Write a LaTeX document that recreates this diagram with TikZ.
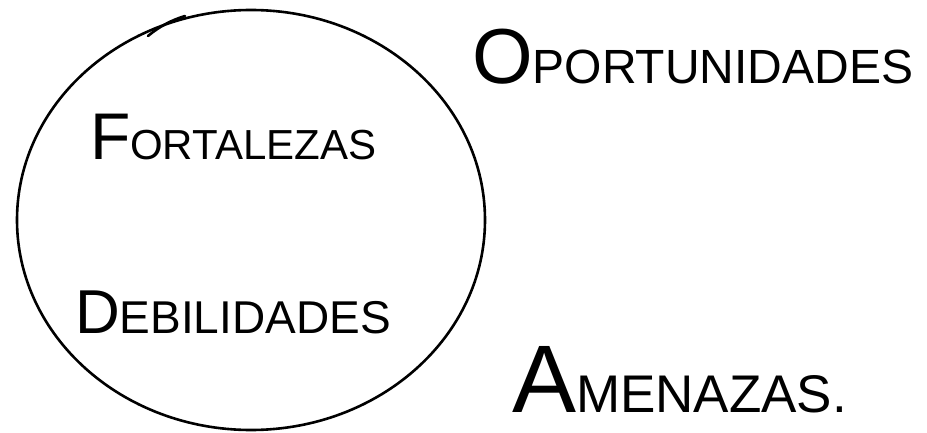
\documentclass[tikz,border=0pt]{standalone}
\usepackage{fontspec}
\setmainfont{Liberation Sans}
\begin{document}
\begin{tikzpicture}[x=1pt,y=-1pt,
  hand/.style={line width=2.6pt, line cap=round, line join=round, black},
  word/.style={anchor=base west, inner sep=0pt, outer sep=0pt, text=black}]
\useasboundingbox[fill=white] (0,0) rectangle (927,433);
% circle
\draw[hand] (251,220) ellipse [x radius=234, y radius=210];
\draw[hand] (148,36) .. controls (160,26) and (172,20) .. (185,16);
% labels
\node[word] (fort) at (90,160) {{\fontsize{66}{66}\selectfont F}{\fontsize{42}{42}\selectfont ORTALEZAS}};
\node[word] (debil) at (75,333) {{\fontsize{62}{62}\selectfont D}{\fontsize{46}{46}\selectfont EBILIDADES}};
\node[word] (oport) at (472,84) {{\fontsize{78}{78}\selectfont O}{\fontsize{48}{48}\selectfont PORTUNIDADES}};
\node[word] (amen) at (512,412) {{\fontsize{96}{96}\selectfont A}{\fontsize{53}{53}\selectfont MENAZAS.}};
\end{tikzpicture}
\end{document}
